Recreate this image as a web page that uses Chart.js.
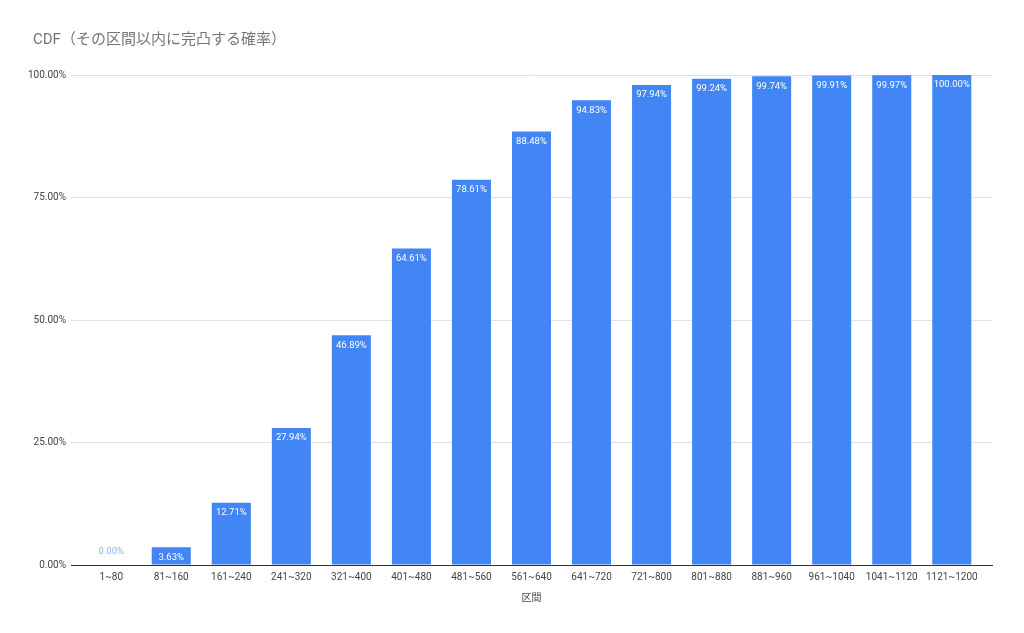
<!DOCTYPE html>
<html>
<head>
<meta charset="utf-8">
<script src="https://cdn.jsdelivr.net/npm/chart.js@4.4.0/dist/chart.umd.min.js"></script>
<style>
  html, body { margin: 0; padding: 0; background: #ffffff; }
  #wrap { width: 1024px; height: 633px; }
</style>
</head>
<body>
<div id="wrap"><canvas id="myChart" width="1024" height="633"></canvas></div>
<script>
const categories = ['1~80', '81~160', '161~240', '241~320', '321~400', '401~480', '481~560', '561~640',
  '641~720', '721~800', '801~880', '881~960', '961~1040', '1041~1120', '1121~1200'];
const cdfValues = [0.0, 3.63, 12.71, 27.94, 46.89, 64.61, 78.61, 88.48, 94.83, 97.94, 99.24, 99.74, 99.91, 99.97, 100.0];
const yTicks = [0, 25, 50, 75, 100];

const FONT = 'Roboto, "Noto Sans CJK JP", sans-serif';

// value labels on top of each bar
const barLabels = {
  id: 'barLabels',
  afterLayout(chart) {
    // let the y tick labels run a bit left of the title's edge without clipping
    chart.scales.y.left = 10;
  },
  afterDatasetsDraw(chart) {
    const ctx = chart.ctx;
    const meta = chart.getDatasetMeta(0);
    ctx.save();
    ctx.font = '9.5px ' + FONT;
    ctx.textAlign = 'center';
    ctx.textBaseline = 'middle';
    meta.data.forEach((bar, i) => {
      const txt = cdfValues[i].toFixed(2) + '%';
      if (cdfValues[i] < 2) {
        ctx.fillStyle = '#8ab4f8';
        ctx.fillText(txt, bar.x, bar.y - 13);
      } else {
        ctx.fillStyle = '#ffffff';
        ctx.fillText(txt, bar.x, bar.y + 10);
      }
    });
    ctx.restore();
  }
};

function mainEvent() {
  const target = document.querySelector('#myChart');
  return new Chart(target, {
    type: 'bar',
    data: {
      labels: categories,
      datasets: [{
        data: cdfValues,
        backgroundColor: '#4285f4',
        borderWidth: 0,
        categoryPercentage: 1.0,
        barPercentage: 0.65
      }]
    },
    options: {
      responsive: false,
      animation: false,
      layout: { padding: { left: 33, right: 32, top: 0, bottom: 25 } },
      plugins: {
        legend: { display: false },
        tooltip: { enabled: false },
        title: {
          display: true,
          text: 'CDF（その区間以内に完凸する確率）',
          align: 'start',
          color: '#757575',
          font: { family: FONT, size: 15, weight: 'normal' },
          padding: { top: 31, bottom: 26 }
        }
      },
      scales: {
        x: {
          grid: { display: false, drawTicks: false },
          border: { color: '#333333', width: 1 },
          ticks: { color: '#444444', font: { family: FONT, size: 10 }, padding: 6, maxRotation: 0, autoSkip: false },
          title: { display: true, text: '区間', color: '#444444', font: { family: FONT, size: 10 }, padding: { top: 3 } },
          // a little extra room at both ends, like the original
          afterBuildTicks(axis) {
            axis._startValue -= 0.17;
            axis._valueRange += 0.34;
          }
        },
        y: {
          min: 0,
          max: 100,
          afterBuildTicks(axis) {
            axis.ticks = yTicks.map((v) => ({ value: v }));
          },
          afterFit(axis) {
            axis.width = 38;
          },
          grid: { color: '#e0e0e0', drawTicks: false },
          border: { display: false },
          ticks: {
            color: '#444444',
            font: { family: FONT, size: 10 },
            padding: 5,
            callback: (v) => Number(v).toFixed(2) + '%'
          }
        }
      }
    },
    plugins: [barLabels]
  });
}

document.addEventListener('DOMContentLoaded', () => mainEvent());
</script>
</body>
</html>
